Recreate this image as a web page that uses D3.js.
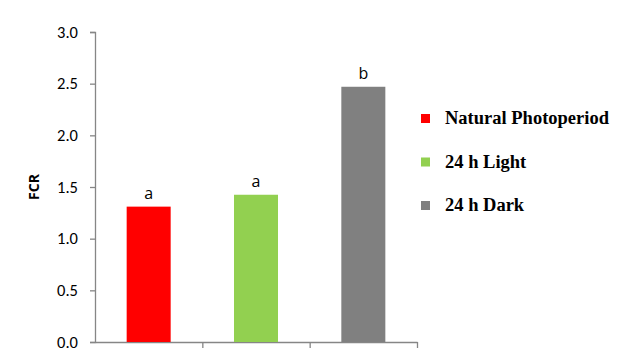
<!DOCTYPE html>
<html><head><meta charset="utf-8">
<script src="https://cdn.jsdelivr.net/npm/d3@7"></script>
<style>body{margin:0;background:#fff;}svg{display:block;}</style>
</head><body>
<svg id="c" width="640" height="358"></svg>
<script>
const categories = ["Natural Photoperiod", "24 h Light", "24 h Dark"];
const values = [1.31, 1.425, 2.47];
const letters = ["a", "a", "b"];
const colors = ["#ff0000", "#92d050", "#808080"];
const yTicks = [0, 0.5, 1.0, 1.5, 2.0, 2.5, 3.0];

const svg = d3.select("#c");
const x = d3.scaleBand().domain(categories).range([95, 417]).paddingInner(0.59).paddingOuter(0.295);
const y = d3.scaleLinear().domain([0, 3]).range([342, 32]);
const axisColor = "#868686";

// y axis
const ya = svg.append("g").attr("transform", "translate(95,0)")
  .call(d3.axisLeft(y).tickValues(yTicks).tickFormat(d3.format(".1f")).tickSize(5).tickPadding(12));
ya.select(".domain").attr("stroke", axisColor).attr("stroke-width", 1.3);
ya.selectAll(".tick line").attr("stroke", axisColor).attr("stroke-width", 1.3);
ya.selectAll(".tick text").attr("font-family", "Carlito, 'Open Sans', 'Liberation Sans', sans-serif").attr("font-size", 16.5).attr("fill", "#000");

// x axis with ticks at band boundaries
const xb = d3.scaleLinear().domain([0, categories.length]).range([95, 417]);
const xa = svg.append("g").attr("transform", "translate(0,342)")
  .call(d3.axisBottom(xb).tickValues(d3.range(1, categories.length + 1)).tickFormat("").tickSize(6).tickSizeOuter(0));
xa.select(".domain").attr("stroke", axisColor).attr("stroke-width", 1.3);
xa.selectAll(".tick line").attr("stroke", axisColor).attr("stroke-width", 1.3);

// bars
svg.append("g").selectAll("rect").data(categories).join("rect")
  .attr("x", d => x(d)).attr("width", x.bandwidth())
  .attr("y", (d, i) => y(values[i])).attr("height", (d, i) => y(0) - y(values[i]))
  .attr("fill", (d, i) => colors[i]);

// letters
svg.append("g").selectAll("text").data(categories).join("text")
  .attr("x", d => x(d) + x.bandwidth() / 2)
  .attr("y", (d, i) => y(values[i]) - 8)
  .attr("text-anchor", "middle")
  .attr("font-family", "'Open Sans', 'Liberation Sans', Arial, sans-serif").attr("font-size", 16)
  .text((d, i) => letters[i]);

// y label
svg.append("text").attr("transform", "translate(39," + y(1.5) + ") rotate(-90)")
  .attr("text-anchor", "middle").attr("font-family", "'Open Sans', 'Liberation Sans', sans-serif")
  .attr("font-weight", "bold").attr("font-size", 14).text("FCR");

// legend
const lg = svg.append("g").selectAll("g").data(categories).join("g")
  .attr("transform", (d, i) => "translate(421," + (118 + i * 43.5) + ")");
lg.append("rect").attr("x", 0).attr("y", -4).attr("width", 9).attr("height", 9).attr("fill", (d, i) => colors[i]);
lg.append("text").attr("x", 24).attr("y", 0).attr("dy", "0.35em")
  .attr("font-family", "'Liberation Serif', 'Times New Roman', serif").attr("font-weight", "bold")
  .attr("font-size", 18.5).text(d => d);
</script>
</body></html>
